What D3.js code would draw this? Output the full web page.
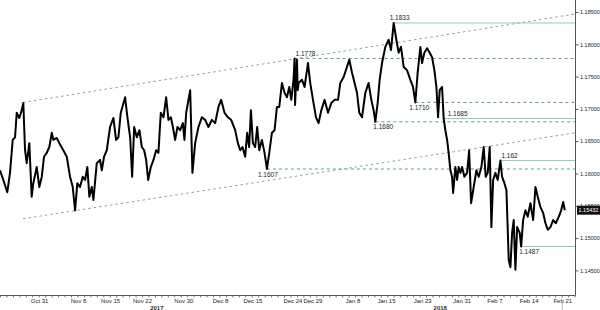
<!DOCTYPE html>
<html>
<head>
<meta charset="utf-8">
<script src="https://cdn.jsdelivr.net/npm/d3@7"></script>
<style>
html, body { margin: 0; padding: 0; background: #fff; }
svg { display: block; font-family: "Liberation Sans", Arial, sans-serif; }
</style>
</head>
<body>
<svg id="chart" width="600" height="310"></svg>
<script>
// EUR/USD, trading-day index (0 = Oct 23 2017) and price
const days = [0.00,0.51,1.13,1.55,1.97,2.33,2.59,2.99,3.36,3.61,3.88,4.14,4.54,4.91,5.16,5.69,6.09,6.47,6.82,7.24,
    7.64,8.02,8.26,8.79,9.19,9.81,10.34,10.85,11.27,11.63,11.98,12.40,12.82,13.18,13.53,13.84,14.22,14.47,14.99,15.50,
    15.77,16.12,16.54,17.05,17.57,17.98,18.34,18.71,19.38,19.74,20.16,20.47,20.78,21.19,21.60,21.97,22.33,22.64,22.95,23.36,
    23.77,24.19,24.54,24.91,25.32,25.74,26.09,26.47,26.78,27.13,27.49,27.91,28.33,28.57,28.84,29.46,29.81,30.23,30.74,31.27,
    31.78,32.29,32.82,33.33,33.84,34.26,34.78,35.30,35.81,36.43,36.85,37.21,37.57,37.98,38.29,38.60,38.87,39.18,39.53,39.84,
    40.16,40.57,40.98,41.35,41.71,42.12,42.53,42.90,43.26,43.67,44.08,44.45,44.81,45.12,45.47,45.63,45.71,46.00,46.12,46.25,
    46.78,47.18,47.71,48.06,48.57,48.95,49.35,49.77,50.28,50.81,51.32,51.83,52.36,52.71,53.22,53.75,54.11,54.53,54.93,55.30,
    55.66,56.08,56.59,57.10,57.52,57.88,58.14,58.50,58.81,59.18,59.69,60.20,60.57,60.98,61.40,61.75,62.12,62.53,63.05,63.57,
    63.98,64.34,64.70,65.12,65.38,65.74,66.16,66.56,66.93,67.29,67.60,67.86,68.11,68.48,68.73,68.99,69.26,69.50,69.77,70.03,
    70.19,70.54,70.81,71.05,71.32,71.58,71.94,72.36,72.67,72.98,73.38,73.80,74.16,74.57,74.93,75.24,75.55,75.86,76.12,76.39,
    76.74,77.10,77.52,77.78,78.14,78.45,78.81,79.07,79.33,79.58,79.84,80.11,80.51,80.73,81.04,81.40,81.75,82.17,82.59,82.95,
    83.30,83.72,84.14,84.50,84.85,85.27,85.69,86.09,86.56,86.93,87.24,87.49];

const prices = [1.1605,1.1590,1.1571,1.1601,1.1652,1.1656,1.1694,1.1686,1.1698,1.1709,1.1636,1.1616,1.1647,1.1564,1.1585,1.1610,1.1579,1.1595,1.1626,1.1632,
    1.1641,1.1663,1.1652,1.1655,1.1647,1.1636,1.1626,1.1595,1.1579,1.1543,1.1585,1.1579,1.1595,1.1590,1.1610,1.1564,1.1579,1.1559,1.1616,1.1621,
    1.1605,1.1626,1.1636,1.1672,1.1686,1.1652,1.1656,1.1694,1.1718,1.1687,1.1656,1.1595,1.1672,1.1656,1.1667,1.1641,1.1636,1.1621,1.1590,1.1610,
    1.1621,1.1636,1.1632,1.1694,1.1687,1.1718,1.1683,1.1687,1.1672,1.1652,1.1672,1.1667,1.1678,1.1652,1.1694,1.1729,1.1601,1.1647,1.1672,1.1687,
    1.1683,1.1672,1.1683,1.1678,1.1703,1.1714,1.1694,1.1687,1.1683,1.1667,1.1647,1.1636,1.1641,1.1626,1.1663,1.1641,1.1698,1.1647,1.1641,1.1672,
    1.1636,1.1652,1.1632,1.1607,1.1632,1.1663,1.1667,1.1703,1.1703,1.1740,1.1725,1.1718,1.1734,1.1714,1.1745,1.1778,1.1706,1.1776,1.1729,1.1740,
    1.1745,1.1734,1.1771,1.1740,1.1709,1.1687,1.1678,1.1698,1.1714,1.1694,1.1709,1.1714,1.1714,1.1740,1.1749,1.1765,1.1776,1.1756,1.1740,1.1725,
    1.1694,1.1687,1.1725,1.1740,1.1714,1.1698,1.1680,1.1709,1.1745,1.1771,1.1796,1.1807,1.1791,1.1833,1.1807,1.1787,1.1796,1.1765,1.1760,1.1745,
    1.1734,1.1710,1.1756,1.1796,1.1771,1.1787,1.1794,1.1787,1.1780,1.1760,1.1734,1.1687,1.1729,1.1734,1.1685,1.1667,1.1652,1.1632,1.1605,1.1595,
    1.1570,1.1610,1.1590,1.1610,1.1601,1.1610,1.1595,1.1601,1.1636,1.1554,1.1579,1.1605,1.1595,1.1610,1.1641,1.1595,1.1601,1.1641,1.1517,1.1590,
    1.1601,1.1590,1.1620,1.1595,1.1585,1.1574,1.1466,1.1455,1.1508,1.1528,1.1451,1.1517,1.1508,1.1487,1.1528,1.1543,1.1533,1.1554,1.1528,1.1579,
    1.1564,1.1548,1.1539,1.1523,1.1513,1.1517,1.1528,1.1523,1.1533,1.1543,1.1556,1.15432];

const lastPrice = 1.15432;

// price axis ticks
const priceTicks = [1.145, 1.150, 1.155, 1.160, 1.165, 1.170, 1.175, 1.180, 1.185];

// date axis labels
const dateLabels = ["Oct 31","Nov 8","Nov 15","Nov 22","Nov 30","Dec 8","Dec 15","Dec 24",
    "Dec 29","Jan 8","Jan 15","Jan 23","Jan 31","Feb 7","Feb 14","Feb 21"];
const dateDays = [6.05,12.1,17.05,22.0,28.4,34.1,39.1,45.3,48.4,54.6,59.8,65.4,71.5,76.6,81.9,87.1];
const yearLabels = ["2017", "2018"];
const yearDays = [24.3, 68.2];

// support / resistance levels
const levelLabels = ["1.1833","1.1778","1.1710","1.1680","1.1685","1.1607","1.162","1.1487"];
const levelValues = [1.1833, 1.1778, 1.1710, 1.1680, 1.1685, 1.1607, 1.1620, 1.1487];
const levelStartDays = [60.98, 45.63, 64.34, 58.14, 68.73, 41.35, 77.52, 80.73];

// trend channel (start day / end day, price at each)
const channelDays = [3.57, 89.15];
const upperChannel = [1.1710, 1.1847];
const lowerChannel = [1.1530, 1.1663];

const W = 600, H = 310;
const plotRight = 575.5, plotBottom = 295.5;

const svg = d3.select("#chart");

const x = d3.scaleLinear().domain([0, 89.15]).range([0, plotRight]);
const y = d3.scaleLinear().domain([1.145, 1.185]).range([270.4, 12]);

// channel lines
[upperChannel, lowerChannel].forEach(function(c) {
    svg.append("line")
        .attr("x1", x(channelDays[0])).attr("y1", y(c[0]))
        .attr("x2", x(channelDays[1])).attr("y2", y(c[1]))
        .attr("stroke", "#7fa9a9")
        .attr("stroke-width", 1)
        .attr("stroke-dasharray", "2.5,3");
});

// levels
const solidLevels = new Set(["1.1833", "1.1685", "1.162", "1.1487"]);
// label offsets [dx, dy] relative to line start
const labelOffset = {
    "1.1833": [-4, -2.5], "1.1778": [1, -2.5], "1.1710": [-6, 8], "1.1680": [-2, 7],
    "1.1685": [4, -2.5], "1.1607": [-9, 8], "1.162": [1, -2.5], "1.1487": [-2, 8]
};

levelValues.forEach(function(v, i) {
    const lab = levelLabels[i];
    const solid = solidLevels.has(lab);
    svg.append("line")
        .attr("x1", x(levelStartDays[i])).attr("x2", plotRight)
        .attr("y1", y(v)).attr("y2", y(v))
        .attr("stroke", solid ? "#8ccdb8" : "#5f9e99")
        .attr("stroke-width", 1)
        .attr("stroke-dasharray", solid ? null : "3,3");
    const off = labelOffset[lab];
    svg.append("text")
        .attr("x", x(levelStartDays[i]) + off[0])
        .attr("y", y(v) + off[1])
        .attr("font-size", 6.5)
        .attr("fill", "#222")
        .text(lab);
});

// price line
const series = days.map(function(d, i) { return [d, prices[i]]; });
const line = d3.line()
    .x(function(d) { return x(d[0]); })
    .y(function(d) { return y(d[1]); });

svg.append("path")
    .datum(series)
    .attr("d", line)
    .attr("fill", "none")
    .attr("stroke", "#000")
    .attr("stroke-width", 2)
    .attr("stroke-linejoin", "round");

// right axis
const yAxis = d3.axisRight(y)
    .tickValues(priceTicks)
    .tickSize(3)
    .tickPadding(1.5)
    .tickFormat(d3.format(".5f"));

const gy = svg.append("g")
    .attr("transform", "translate(" + plotRight + ",0)")
    .call(yAxis);
gy.select(".domain").attr("d", "M0,0V" + plotBottom).attr("stroke", "#555");
gy.selectAll(".tick line").attr("stroke", "#555");
gy.selectAll("text").attr("font-size", 5.5).attr("fill", "#222")
    .attr("font-family", "Liberation Sans, Arial, sans-serif");

// bottom axis with daily ticks
const dayTicks = d3.range(0, 90);
const xAxis = d3.axisBottom(x)
    .tickValues(dayTicks)
    .tickSize(2)
    .tickFormat("");

const gx = svg.append("g")
    .attr("transform", "translate(0," + plotBottom + ")")
    .call(xAxis);
gx.select(".domain").attr("d", "M0,0H" + plotRight).attr("stroke", "#555");
gx.selectAll(".tick line").attr("stroke", "#777");

const gl = svg.append("g")
    .attr("transform", "translate(0," + plotBottom + ")")
    .call(d3.axisBottom(x).tickValues(dateDays).tickSize(0).tickPadding(3)
        .tickFormat(function(d, i) { return dateLabels[i]; }));
gl.select(".domain").remove();
gl.selectAll("text").attr("font-size", 6).attr("fill", "#222")
    .attr("font-family", "Liberation Sans, Arial, sans-serif");

svg.selectAll(".year")
    .data(yearLabels)
    .enter().append("text")
    .attr("class", "year")
    .attr("x", function(d, i) { return x(yearDays[i]); })
    .attr("y", 309.5)
    .attr("text-anchor", "middle")
    .attr("font-size", 6)
    .attr("font-weight", "bold")
    .attr("fill", "#333")
    .text(function(d) { return d; });

// marker under last date
svg.append("line")
    .attr("x1", x(dateDays[dateDays.length - 1])).attr("x2", x(dateDays[dateDays.length - 1]))
    .attr("y1", 303).attr("y2", 310)
    .attr("stroke", "#bbb");

// last price tag
const tag = svg.append("g")
    .attr("transform", "translate(" + (plotRight + 1.5) + "," + y(lastPrice) + ")");
tag.append("rect")
    .attr("x", 0).attr("y", -4.5)
    .attr("width", W - plotRight - 1.5).attr("height", 9)
    .attr("fill", "#111");
tag.append("text")
    .attr("x", 1.5).attr("y", 2)
    .attr("font-size", 5.5)
    .attr("fill", "#fff")
    .text(d3.format(".5f")(lastPrice));
</script>
</body>
</html>
